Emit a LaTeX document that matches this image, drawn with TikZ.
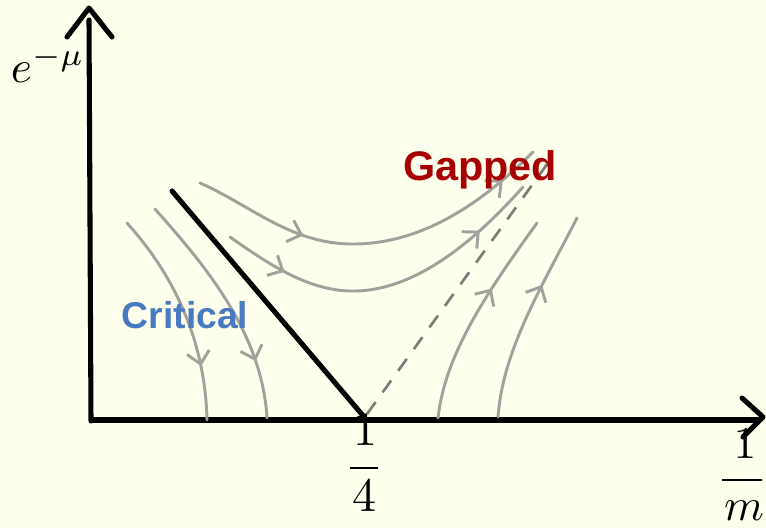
\documentclass[tikz,border=0pt]{standalone}
\usepackage{fontspec}
\newfontfamily\arialfont{Liberation Sans}
\usetikzlibrary{arrows.meta,decorations.markings}
\definecolor{bg}{RGB}{255,255,238}
\definecolor{flow}{RGB}{162,162,156}
\definecolor{gapred}{RGB}{168,0,0}
\definecolor{critblue}{RGB}{72,122,192}
\definecolor{dashgray}{RGB}{125,125,120}
\tikzset{
  flowtip/.tip={Straight Barb[length=9pt,width=17pt,line width=2.2pt]},
  axis/.style={line width=3.8pt,black,line cap=round,line join=round},
  flowline/.style={line width=2.2pt,flow,line cap=round},
  onearrow/.style={postaction={decorate},decoration={markings,mark=at position #1 with {\arrow{flowtip}}}},
  twoarrows/.style 2 args={postaction={decorate},decoration={markings,mark=at position #1 with {\arrow{flowtip}},mark=at position #2 with {\arrow{flowtip}}}},
  mathbig/.style={inner sep=0pt,font=\fontsize{10}{12}\selectfont,scale=3.6,transform shape},
  mathmid/.style={inner sep=0pt,font=\fontsize{10}{12}\selectfont,scale=3.4,transform shape},
  regionlbl/.style={inner sep=0pt,anchor=base,font=\arialfont\bfseries\fontsize{#1}{#1}\selectfont},
}
\begin{document}
\begin{tikzpicture}[x=0.75pt,y=-0.75pt]
\fill[bg] (0,0) rectangle (766,528);
\useasboundingbox (0,0) rectangle (766,528);

% axes
\coordinate (O) at (91,421);
\coordinate (ytop) at (89,20);
\coordinate (xend) at (758,420);
\draw[axis] (O) -- (ytop);
\draw[axis] (67,37) -- (89,8) -- (112,37);
\draw[axis] (93,420) -- (xend);
\draw[axis] (742,398) -- (763,417) -- (743,437);

% axis labels
\node[mathmid,anchor=base west] (ylbl) at (10,82) {$e^{-\mu}$};
\node[mathbig] (q1) at (365,430) {$1$};
\draw[line width=1.5pt] (350,468) -- (378,468);
\node[mathbig] (q4) at (364,496) {$4$};
\node[mathmid] (m1) at (745,444) {$1$};
\draw[line width=1.5pt] (722,480) -- (762,480);
\node[mathmid] (mm) at (744,511) {$m$};

% flow lines
\draw[flowline,onearrow=0.75] (127,223) .. controls (165,265) and (205,330) .. (207,420);
\draw[flowline,onearrow=0.76] (155,209) .. controls (200,260) and (262,330) .. (267,418);
\draw[flowline,twoarrows={0.31}{0.89}] (200,183) .. controls (250,205) and (290,243) .. (350,244) .. controls (420,245) and (480,205) .. (533,152);
\draw[flowline,twoarrows={0.19}{0.82}] (230,237) .. controls (270,265) and (310,292) .. (355,291) .. controls (420,290) and (480,235) .. (523,187);
\draw[flowline,onearrow=0.64] (438,418) .. controls (445,355) and (485,295) .. (537,223);
\draw[flowline,onearrow=0.65] (498,417) .. controls (503,350) and (540,290) .. (577,218);

% dashed separatrix
\draw[dashgray,line width=2pt,dash pattern=on 11pt off 9pt] (367,414) -- (553,156);

% critical line
\draw[axis] (172,191) -- (365,418);

% labels
\node[regionlbl=31,text=gapred] (gapped) at (480,180) {Gapped};
\node[regionlbl=28,text=critblue] (critical) at (185,328) {Critical};
\end{tikzpicture}
\end{document}
